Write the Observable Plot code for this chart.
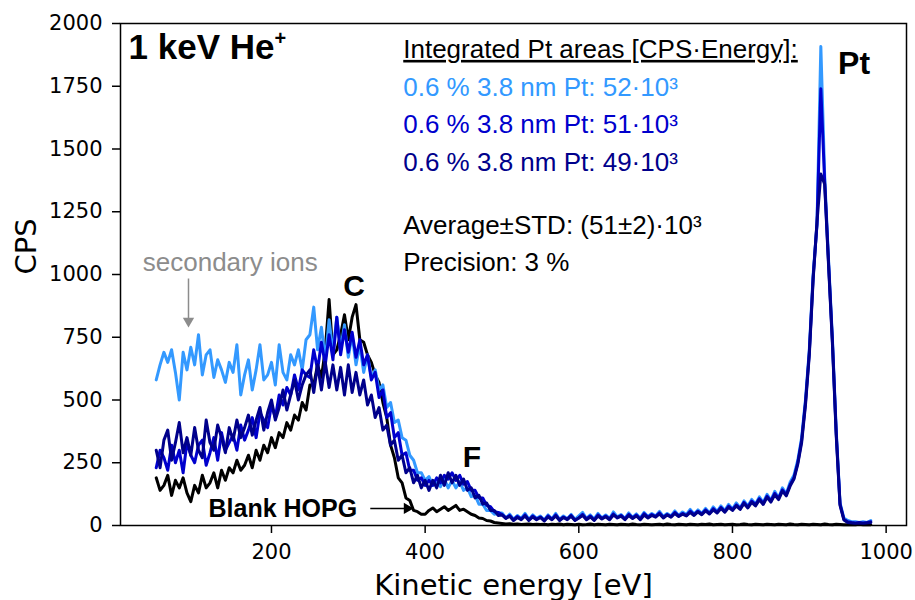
<!DOCTYPE html>
<html><head><meta charset="utf-8">
<script src="https://cdn.jsdelivr.net/npm/d3@7"></script>
<script src="https://cdn.jsdelivr.net/npm/@observablehq/plot@0.6"></script>
<style>body{margin:0;background:#fff}#chart svg{display:block}</style>
</head><body><div id="chart"></div>
<script>
// Energy grid (eV): first channel and channel width
const energyStart = 50;
const energyStep = 5;

// CPS values, one per 5 eV channel from 50 to 980 eV
const lightBlueCPS = [
580,640,690,650,700,610,500,690,620,710,
640,760,600,680,700,590,660,620,570,650,
610,720,520,600,660,540,620,720,580,600,
650,560,720,610,580,680,640,700,620,740,
760,870,700,790,660,820,690,830,700,800,
670,760,640,720,610,680,590,620,540,560,
470,490,410,420,350,340,280,260,210,210,
180,195,160,170,155,185,150,180,150,175,
140,150,115,120,85,85,60,60,45,50,
50,30,45,25,40,28,48,25,42,28,
38,22,42,26,48,24,38,26,44,24,
38,52,28,42,26,48,30,42,28,54,
34,44,28,50,32,46,30,52,36,48,
38,56,36,48,38,58,40,54,44,64,
46,62,48,68,50,74,56,78,60,84,
66,90,70,98,78,104,86,114,92,124,
100,136,110,150,126,172,200,260,350,500,
700,1000,1200,1908,1390,1060,750,380,90,30,
20,15,15,12,15,12,20];

const mediumBlueCPS = [
230,300,270,220,320,250,300,210,330,280,
250,320,340,240,290,350,260,370,300,330,
360,300,400,340,380,430,350,450,420,390,
480,430,520,480,550,520,600,540,620,600,
590,700,620,730,640,760,660,830,680,780,
690,770,670,740,640,680,580,610,510,540,
430,450,350,370,280,290,220,220,180,190,
160,180,160,190,170,200,185,210,180,200,
165,175,140,140,110,110,80,75,55,52,
44,30,40,22,36,26,42,22,38,26,
34,20,38,25,42,22,34,26,40,22,
30,44,26,38,22,42,28,38,26,46,
30,40,26,44,30,42,26,47,33,44,
36,50,33,44,36,52,38,48,40,57,
43,57,46,62,48,67,53,72,56,77,
63,82,68,92,73,97,83,107,88,117,
98,128,108,142,123,162,190,250,340,490,
690,990,1200,1740,1370,1050,740,370,85,25,
15,12,10,12,10,12,15];

const navyCPS = [
300,230,340,380,260,330,410,290,350,280,
390,300,270,420,330,300,400,350,290,390,
340,420,350,390,440,360,420,470,380,450,
500,420,470,540,460,520,580,500,560,600,
620,530,640,540,650,550,640,540,630,520,
640,530,610,520,580,480,520,430,470,380,
400,320,340,260,280,210,230,170,200,150,
180,140,180,150,200,160,210,170,200,160,
185,140,150,110,120,85,90,60,60,40,
42,28,37,20,32,23,38,20,34,23,
32,18,34,23,38,20,32,23,37,20,
30,40,23,34,20,38,26,35,23,42,
32,37,23,40,28,38,23,42,30,40,
33,46,30,42,33,48,36,45,38,52,
40,54,43,58,46,62,50,68,53,72,
60,78,64,88,70,92,78,102,84,112,
93,122,103,137,118,157,185,245,330,480,
680,980,1210,1400,1360,1040,730,360,80,22,
12,10,8,10,8,10,12];

const blankHOPGCPS = [
190,140,160,200,120,180,150,190,130,95,
160,130,200,150,170,210,150,220,180,230,
210,260,220,240,280,230,300,260,320,290,
350,310,370,350,410,380,440,420,490,460,
560,560,640,590,700,900,680,700,760,840,
740,830,880,740,730,680,650,600,570,490,
430,320,270,190,170,110,100,60,55,45,
45,60,70,55,65,75,60,70,80,60,
65,55,45,40,30,28,20,18,12,10,
8,6,7,5,6,4,5,6,4,5,
4,5,3,5,4,6,3,5,4,3,
5,3,4,6,3,5,4,3,5,4,
3,5,4,3,6,4,3,5,4,3,
4,5,3,6,4,3,5,4,3,5,
4,3,5,4,6,3,4,5,3,4,
5,3,4,6,4,3,5,4,3,5,
4,3,5,4,3,6,4,3,5,4,
3,5,4,3,6,4,3,5,4,3,
3,4,3,5,3,4,3];

const seriesNames = ["0.6 % 3.8 nm Pt (52)", "0.6 % 3.8 nm Pt (51)", "0.6 % 3.8 nm Pt (49)", "Blank HOPG"];
const seriesColors = ["#3399ff", "#0000cd", "#00008b", "#000000"];
const xTicks = [200, 400, 600, 800, 1000];
const yTicks = [0, 250, 500, 750, 1000, 1250, 1500, 1750, 2000];

const areaLines = [
  "0.6 % 3.8 nm Pt: 52·10³",
  "0.6 % 3.8 nm Pt: 51·10³",
  "0.6 % 3.8 nm Pt: 49·10³"
];

const toRows = (vals, name) => vals.map((v, i) => ({series: name, energy: energyStart + i * energyStep, cps: v}));
const allSeries = [lightBlueCPS, mediumBlueCPS, navyCPS, blankHOPGCPS].map((v, k) => toRows(v, seriesNames[k]));
// draw order: blank HOPG underneath, then the three Pt spectra
const drawOrder = [3, 0, 1, 2];

const sans = "'Liberation Sans', Arial, sans-serif";

const chart = Plot.plot({
  width: 915, height: 600,
  marginLeft: 120, marginRight: 9, marginTop: 23, marginBottom: 75,
  x: {domain: [3.5, 1026.5]},
  y: {domain: [0, 2000]},
  color: {domain: seriesNames, range: seriesColors},
  style: {fontFamily: "'DejaVu Sans', sans-serif", fontSize: "21px", color: "black", background: "white", overflow: "visible"},
  marks: [
    ...drawOrder.map(k => Plot.line(allSeries[k], {x: "energy", y: "cps", stroke: "series", strokeWidth: 3, strokeLinejoin: "round"})),
    Plot.frame({stroke: "black", strokeWidth: 1.5}),
    Plot.axisX({ticks: xTicks, tickFormat: "d", tickSize: 8, tickPadding: 11, label: null, fontSize: 21, strokeWidth: 1.5}),
    Plot.axisY({ticks: yTicks, tickFormat: "d", tickSize: 8, tickPadding: 10, label: null, fontSize: 21, strokeWidth: 1.5}),
    Plot.text(["Kinetic energy [eV]"], {frameAnchor: "bottom", dy: 69, lineAnchor: "bottom", fontSize: 29}),
    Plot.text(["CPS"], {frameAnchor: "left", dx: -85, rotate: -90, lineAnchor: "bottom", fontSize: 29}),
    // annotations
    Plot.text(["1 keV He+"], {x: 14, y: 1857, textAnchor: "start", lineAnchor: "bottom", fontSize: 35, fontWeight: "bold", fontFamily: sans}),
    Plot.text(["Integrated Pt areas [CPS·Energy]:"], {x: 371.5, y: 1863, textAnchor: "start", lineAnchor: "bottom", fontSize: 26, fontFamily: sans}),
    Plot.text([areaLines[0]], {x: 371.5, y: 1713, textAnchor: "start", lineAnchor: "bottom", fontSize: 26, fontFamily: sans, fill: seriesColors[0]}),
    Plot.text([areaLines[1]], {x: 371.5, y: 1563, textAnchor: "start", lineAnchor: "bottom", fontSize: 26, fontFamily: sans, fill: seriesColors[1]}),
    Plot.text([areaLines[2]], {x: 371.5, y: 1414, textAnchor: "start", lineAnchor: "bottom", fontSize: 26, fontFamily: sans, fill: seriesColors[2]}),
    Plot.text(["Average±STD: (51±2)·10³"], {x: 371.5, y: 1162, textAnchor: "start", lineAnchor: "bottom", fontSize: 26, fontFamily: sans}),
    Plot.text(["Precision: 3 %"], {x: 371.5, y: 1013, textAnchor: "start", lineAnchor: "bottom", fontSize: 26, fontFamily: sans}),
    Plot.text(["Pt"], {x: 937.5, y: 1797, textAnchor: "start", lineAnchor: "bottom", fontSize: 32, fontWeight: "bold", fontFamily: sans}),
    Plot.text(["C"], {x: 293.5, y: 916, textAnchor: "start", lineAnchor: "bottom", fontSize: 30, fontWeight: "bold", fontFamily: sans}),
    Plot.text(["F"], {x: 449, y: 235, textAnchor: "start", lineAnchor: "bottom", fontSize: 30, fontWeight: "bold", fontFamily: sans}),
    Plot.text(["Blank HOPG"], {x: 118, y: 32, textAnchor: "start", lineAnchor: "bottom", fontSize: 25, fontWeight: "bold", fontFamily: sans}),
    Plot.text(["secondary ions"], {x: 32.5, y: 1012, textAnchor: "start", lineAnchor: "bottom", fontSize: 26, fontFamily: sans, fill: "#8c8c8c"}),
    // arrows
    Plot.link([0], {x1: 92, y1: 984, x2: 92, y2: 820, stroke: "#8c8c8c", strokeWidth: 1.5}),
    Plot.dot([0], {x: 92, y: 815, symbol: "triangle", r: 4.2, fill: "#8c8c8c", stroke: "none", rotate: 180}),
    Plot.link([0], {x1: 328.6, y1: 68, x2: 374, y2: 68, stroke: "black", strokeWidth: 1.5}),
    Plot.dot([0], {x: 376.5, y: 68, symbol: "triangle", r: 4.2, fill: "black", stroke: "none", rotate: 90})
  ]
});

document.getElementById("chart").appendChild(chart);

// rich-text touches: superscript on He+, underline on the heading
chart.querySelectorAll("text").forEach(t => {
  if (t.textContent === "1 keV He+") {
    t.textContent = "1 keV He";
    const sup = document.createElementNS("http://www.w3.org/2000/svg", "tspan");
    sup.setAttribute("font-size", "20");
    sup.setAttribute("dy", "-14");
    sup.textContent = "+";
    t.appendChild(sup);
  }
  if (t.textContent === "Integrated Pt areas [CPS·Energy]:") {
    t.setAttribute("text-decoration", "underline");
  }
});
</script>
</body></html>
